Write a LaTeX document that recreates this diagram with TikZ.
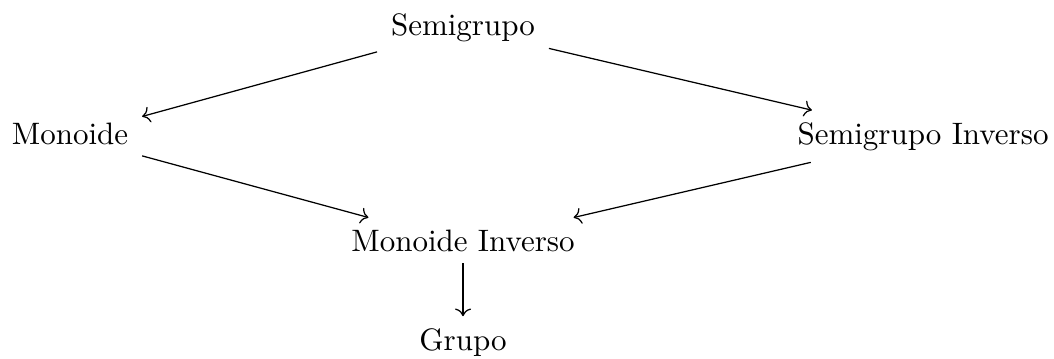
\documentclass[tikz,border=0pt]{standalone}
\usetikzlibrary{cd,arrows.meta}
\begin{document}
\begin{tikzpicture}[x={(0.3226pt,0)}, y={(0,-0.3226pt)},
  obj/.style={shape=asymmetrical rectangle, anchor=base, inner xsep=1ex, inner ysep=0.85ex},
  arr/.style={-{Computer Modern Rightarrow}, line width=0.4pt}]
\useasboundingbox (0,0) rectangle (1054,358);
% objects of the hierarchy
\node[obj] (sg)  at (463,36)  {Semigrupo};
\node[obj] (mo)  at (70,144)  {Monoide};
\node[obj] (sgi) at (923,144) {Semigrupo Inverso};
\node[obj] (moi) at (463,251) {Monoide Inverso};
\node[obj] (gr)  at (463,350) {Grupo};
% inclusions
\draw[arr] (sg) -- (mo);
\draw[arr] (sg) -- (sgi);
\draw[arr] (mo) -- (moi);
\draw[arr] (sgi) -- (moi);
\draw[arr] (moi) -- (gr);
\end{tikzpicture}
\end{document}
